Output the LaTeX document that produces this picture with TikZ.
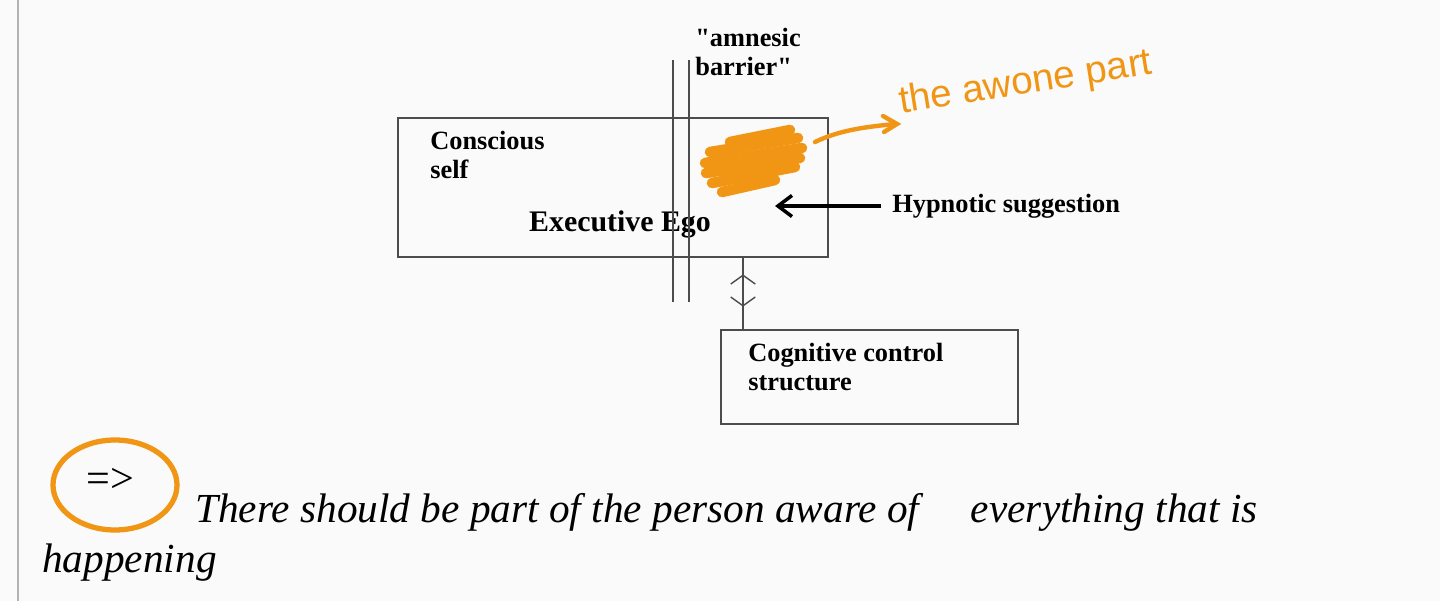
\documentclass[tikz,border=0pt]{standalone}
\usepackage{fontspec}
\setmainfont{Liberation Serif}
\newfontfamily\handfont{Liberation Sans}
\newfontfamily\quotefont{Liberation Serif}
\usetikzlibrary{arrows.meta,decorations.markings}
\definecolor{myorange}{RGB}{240,150,20}
\begin{document}
\begin{tikzpicture}[x=0.02cm,y=-0.02cm]

\tikzstyle{frame} = [draw=black!70, thick]
\tikzstyle{label} = [font=\fontsize{15}{17}\selectfont\bfseries, anchor=west, inner sep=0]
\tikzstyle{scribble} = [myorange, line width=6, line cap=round]

\useasboundingbox[fill=black!2] (0,0) rectangle (1440,601);
\draw[black!30, thick] (18,0) -- (18,601);

% boxes
\draw[frame] (398,118) rectangle (828,257);
\coordinate (ego-bottom) at (743,257);
\draw[frame] (721,330) rectangle (1018,424);
\coordinate (ccs-top) at (743,330);

\node[label] (conscious) at (430,158) {\begin{tabular}{@{}l@{}} Conscious \\ self \end{tabular}};
\node[label, font=\fontsize{17}{19}\selectfont\bfseries, anchor=center] (ego) at (620,224) {Executive Ego};
\node[label] (ccs) at (748,370) {\begin{tabular}{@{}l@{}} Cognitive control \\ structure \end{tabular}};

% barrier
\draw[frame] (673,60) -- (673,302);
\draw[frame] (689,60) -- (689,302);
\node[label, font=\quotefont\fontsize{15}{17}\selectfont\bfseries] (barrier) at (695,55) {\begin{tabular}{@{}l@{}} "amnesic \\ barrier" \end{tabular}};

% hypnotic suggestion
\node[label] (hypno) at (892,206) {Hypnotic suggestion};
\coordinate (target) at (775,206);
\draw[-{Straight Barb[length=8,width=12]}, line width=2] ([xshift=-6]hypno.west) -- (target);

% two-way link
\draw[black!70, thick, postaction={decorate},
  decoration={markings,
    mark=at position 0.38 with {\arrow{Straight Barb[reversed,length=5,width=14]}},
    mark=at position 0.68 with {\arrow{Straight Barb[length=5,width=14]}}}]
  (ego-bottom) -- (ccs-top);

% handwriting
\draw[scribble] (730,142) -- (790,130);
\draw[scribble] (710,152) -- (798,138);
\draw[scribble] (705,163) -- (802,148);
\draw[scribble] (706,173) -- (800,158);
\draw[scribble] (712,183) -- (795,167);
\draw[scribble] (722,192) -- (775,180);
\draw[scribble, line width=12] (718,165) -- (770,165);
\draw[myorange, line width=2.5, line cap=round] (815,142) .. controls (840,130) and (865,127) .. (895,124);
\draw[myorange, line width=2.5, line cap=round] (883,116) -- (897,124) -- (884,132);
\node[myorange, font=\handfont\fontsize{22}{24}\selectfont, rotate=9, anchor=south west, inner sep=0] (aware) at (902,122) {the awone part};

% bottom line
\draw[myorange, line width=3] (115,485) ellipse (62 and 45);
\node[font=\fontsize{24}{26}\selectfont, anchor=center] (implies) at (110,480) {=>};
\node[font=\fontsize{23.5}{26}\selectfont\itshape, anchor=base west, inner sep=0] (concl) at (195,522) {There should be part of the person aware of \quad everything that is};
\node[font=\fontsize{23.5}{26}\selectfont\itshape, anchor=base west, inner sep=0] (concl2) at (42,572) {happening};

\end{tikzpicture}
\end{document}
